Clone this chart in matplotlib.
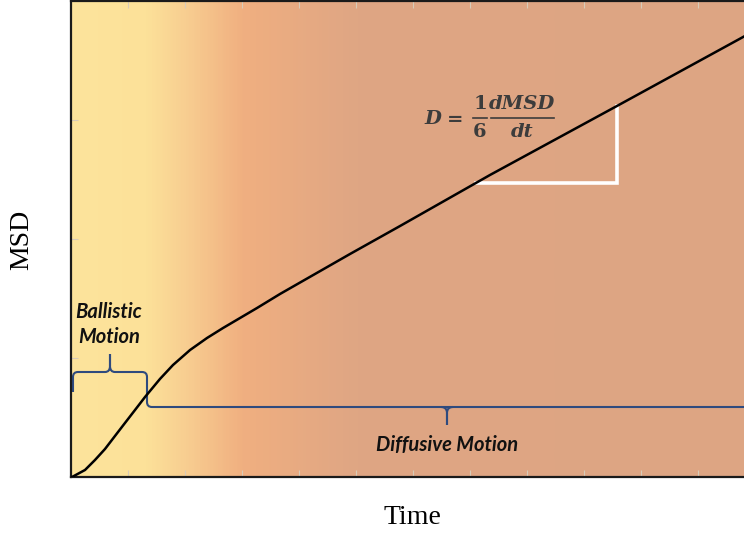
import numpy as np
import matplotlib
matplotlib.use("Agg")
import matplotlib.pyplot as plt
from matplotlib.colors import LinearSegmentedColormap
from matplotlib.path import Path
from matplotlib.patches import PathPatch

# Mean squared displacement curve (arbitrary units)
time = [0.018, 0.246, 0.421, 0.596, 0.772, 0.947, 1.123, 1.298, 1.561,
        1.789, 2.088, 2.386, 2.667, 2.965, 3.263, 3.667, 4.895, 5.772,
        7.351, 9.579, 11.789, 12.0]
msd = [0.000, 0.059, 0.143, 0.235, 0.345, 0.454, 0.563, 0.672, 0.824,
       0.941, 1.067, 1.168, 1.252, 1.336, 1.420, 1.538, 1.874, 2.109,
       2.538, 3.118, 3.697, 3.753]

x_ticks = list(range(1, 12))
y_ticks = [1, 2, 3]

fig = plt.figure(figsize=(7.44, 5.35), dpi=100)
ax = fig.add_axes([71 / 744, 58 / 535, 12 * 57 / 744, 476 / 535])
ax.set_xlim(0, 12)
ax.set_ylim(0, 4)


def px(x, y):
    """Pixel position inside the axes frame -> data coordinates."""
    return ((x - 71) / 57, (477 - y) / 119)


# Background colour band: ballistic (yellow) to diffusive (tan)
stops = [(0.0, "#FDE49C"), (1.3 / 12, "#FCE199"), (2.0 / 12, "#F8CE91"),
         (3.0 / 12, "#F0AF80"), (5.0 / 12, "#DFA684"), (1.0, "#DDA583")]
cmap = LinearSegmentedColormap.from_list("regime", stops)
grad = np.linspace(0, 1, 600).reshape(1, -1)
ax.imshow(grad, cmap=cmap, extent=[0, 12, 0, 4], aspect="auto", zorder=0,
          interpolation="bilinear")

ax.plot(time, msd, color="black", lw=1.8, zorder=3, solid_capstyle="round",
        solid_joinstyle="round")

# Slope triangle
tri_x0, tri_x1 = 7.1, 9.579
tri_y0, tri_y1 = 2.471, 3.118
ax.plot([tri_x0, tri_x1, tri_x1], [tri_y0, tri_y0, tri_y1], color="white",
        lw=2.6, zorder=2, solid_joinstyle="miter")

# D = (1/6) dMSD/dt
eq_col = "#3c3c3c"
eq = dict(family="DejaVu Serif", weight="bold", color=eq_col, fontsize=14,
          ha="center", va="center", zorder=4)
ax.text(*px(433, 119), "D", style="italic", **eq)
ax.text(*px(455, 120), "=", **eq)
ax.text(*px(480, 104), "1", **eq)
ax.text(*px(480, 132), "6", **eq)
ax.text(*px(522, 104), "dMSD", style="italic", **eq)
ax.text(*px(522, 132), "dt", style="italic", **eq)
for xa, xb in [(473, 487), (491, 554)]:
    (ta, ya), (tb, _) = px(xa, 118), px(xb, 118)
    ax.plot([ta, tb], [ya, ya], color=eq_col, lw=1.2, zorder=4)

# Braces marking the two regimes
brace_col = "#2E4A7E"
r = 5
bv = [px(73, 392), px(73, 372 + r), px(73, 372), px(73 + r, 372),
      px(110 - r, 372), px(110, 372), px(110, 366), px(110, 354),
      px(110, 366), px(110, 372), px(110 + r, 372),
      px(147 - r, 372), px(147, 372), px(147, 372 + r),
      px(147, 407 - r), px(147, 407), px(147 + r, 407), px(760, 407)]
bc = [Path.MOVETO, Path.LINETO, Path.CURVE3, Path.CURVE3,
      Path.LINETO, Path.CURVE3, Path.CURVE3, Path.LINETO,
      Path.LINETO, Path.CURVE3, Path.CURVE3,
      Path.LINETO, Path.CURVE3, Path.CURVE3,
      Path.LINETO, Path.CURVE3, Path.CURVE3, Path.LINETO]
ax.add_patch(PathPatch(Path(bv, bc), fill=False, edgecolor=brace_col,
                       lw=1.5, zorder=2))
tv = [px(441, 407), px(447, 407), px(447, 413), px(447, 425),
      px(447, 413), px(447, 407), px(453, 407)]
tc = [Path.MOVETO, Path.CURVE3, Path.CURVE3, Path.LINETO,
      Path.LINETO, Path.CURVE3, Path.CURVE3]
ax.add_patch(PathPatch(Path(tv, tc), fill=False, edgecolor=brace_col,
                       lw=1.5, zorder=2))

label_font = dict(family="Lato", weight="bold", style="italic",
                  color="#111111", fontsize=14.5, ha="center", va="center")
ax.text(*px(109, 312), "Ballistic", **label_font)
ax.text(*px(109, 337), "Motion", **label_font)
ax.text(*px(447, 445), "Diffusive Motion", **label_font)

ax.set_xticks(x_ticks)
ax.set_yticks(y_ticks)
ax.set_xticklabels([])
ax.set_yticklabels([])
ax.tick_params(axis="both", direction="in", length=5, width=0.8,
               color="#d8cbb8", top=True, right=False)

for side in ["left", "bottom", "top", "right"]:
    ax.spines[side].set_linewidth(1.6)
    ax.spines[side].set_color("#1a1a1a")

fig.text(22 / 744, 1 - 240 / 535, "MSD", rotation=90, fontsize=20,
         family="Liberation Serif", ha="center", va="center")
fig.text(412 / 744, 1 - 517 / 535, "Time", fontsize=20,
         family="Liberation Serif", ha="center", va="center")

fig.savefig("out.png", dpi=100)
